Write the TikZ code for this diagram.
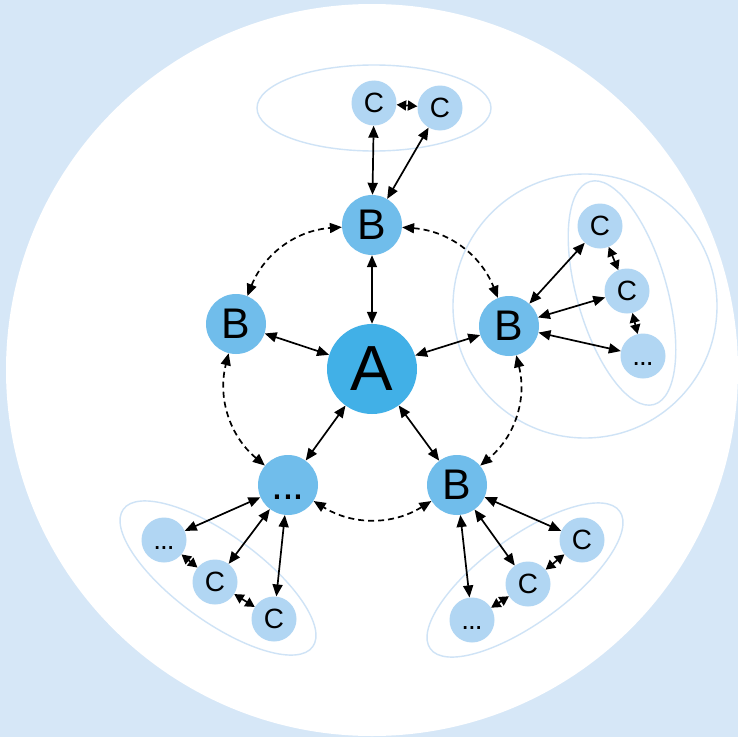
\documentclass[tikz,border=0pt]{standalone}
\usepackage{fontspec}
\setmainfont{Liberation Sans}
\usepackage{tikz}
\usetikzlibrary{arrows.meta}
\usepackage{xcolor}

\definecolor{backblue}{HTML}{D6E7F7}
\definecolor{coreblue}{HTML}{41B0E7}
\definecolor{peerblue}{HTML}{70BDEB}
\definecolor{leafblue}{HTML}{B1D6F3}
\definecolor{groupline}{HTML}{CFE3F6}
\newcommand{\etcdots}{\vphantom{B}.\kern-0.04em.\kern-0.04em.}

\tikzset{
  core/.style={circle, fill=coreblue, minimum size=90bp, inner sep=0pt, font=\fontsize{64}{64}\selectfont},
  peer/.style={circle, fill=peerblue, minimum size=60bp, inner sep=0pt, font=\fontsize{43}{43}\selectfont},
  leaf/.style={circle, fill=leafblue, minimum size=45bp, inner sep=0pt, font=\fontsize{28}{28}\selectfont},
  link/.style={{Triangle[length=12bp,width=10bp]}-{Triangle[length=12bp,width=10bp]}, line width=1.7bp},
  sibling/.style={{Triangle[length=9.5bp,width=10bp]}-{Triangle[length=9.5bp,width=10bp]}, line width=1.7bp},
  ring/.style={link, dash pattern=on 6bp off 4bp},
  group/.style={draw=groupline, line width=1.4bp},
}

\begin{document}
\begin{tikzpicture}[x=1bp, y=1bp]
	% Background
	\fill[backblue] (0,0) rectangle (738,-737);
	\fill[white] (372,-370) circle (366);
	% Groups
	\draw[group] (374,-108) ellipse (117 and 43);
	\draw[group] (585,-306) circle (132);
	\draw[group, rotate around={-74:(622,-293)}] (622,-293) ellipse (116 and 45);
	\draw[group, rotate around={-36:(218,-578)}] (218,-578) ellipse (117 and 43);
	\draw[group, rotate around={36:(525,-580)}] (525,-580) ellipse (117 and 43);
	% Define nodes
	\node[core] (a)  at (372,-369) {A};
	\node[peer] (b1) at (372,-225) {B};
	\node[peer] (b2) at (509,-326) {B};
	\node[peer] (b3) at (457,-485) {B};
	\node[peer] (bx) at (288,-485) {\etcdots};
	\node[peer] (b5) at (236,-324) {B};
	\node[leaf] (c11) at (374,-103) {C};
	\node[leaf] (c12) at (440,-108) {C};
	\node[leaf] (c21) at (600,-226) {C};
	\node[leaf] (c22) at (627,-291) {C};
	\node[leaf] (c2x) at (643,-356) {\etcdots};
	\node[leaf] (c31) at (582,-540) {C};
	\node[leaf] (c32) at (528,-584) {C};
	\node[leaf] (c3x) at (472,-620) {\etcdots};
	\node[leaf] (cx1) at (164,-540) {\etcdots};
	\node[leaf] (cx2) at (215,-582) {C};
	\node[leaf] (cx3) at (274,-619) {C};
	% Connect the nodes
	\foreach \b in {b1,b2,b3,bx,b5} \draw[link] (a) -- (\b);
	\draw[ring] (b1) to[bend left=32] (b2);
	\draw[ring] (b2) to[bend left=32] (b3);
	\draw[ring] (b3) to[bend left=32] (bx);
	\draw[ring] (bx) to[bend left=32] (b5);
	\draw[ring] (b5) to[bend left=32] (b1);
	\draw[link] (b1) -- (c11);
	\draw[link] (b1) -- (c12);
	\draw[sibling] (c11) -- (c12);
	\foreach \c in {c21,c22,c2x} \draw[link] (b2) -- (\c);
	\draw[sibling] (c21) -- (c22);
	\draw[sibling] (c22) -- (c2x);
	\foreach \c in {c31,c32,c3x} \draw[link] (b3) -- (\c);
	\draw[sibling] (c31) -- (c32);
	\draw[sibling] (c32) -- (c3x);
	\foreach \c in {cx1,cx2,cx3} \draw[link] (bx) -- (\c);
	\draw[sibling] (cx1) -- (cx2);
	\draw[sibling] (cx2) -- (cx3);
\end{tikzpicture}
\end{document}
